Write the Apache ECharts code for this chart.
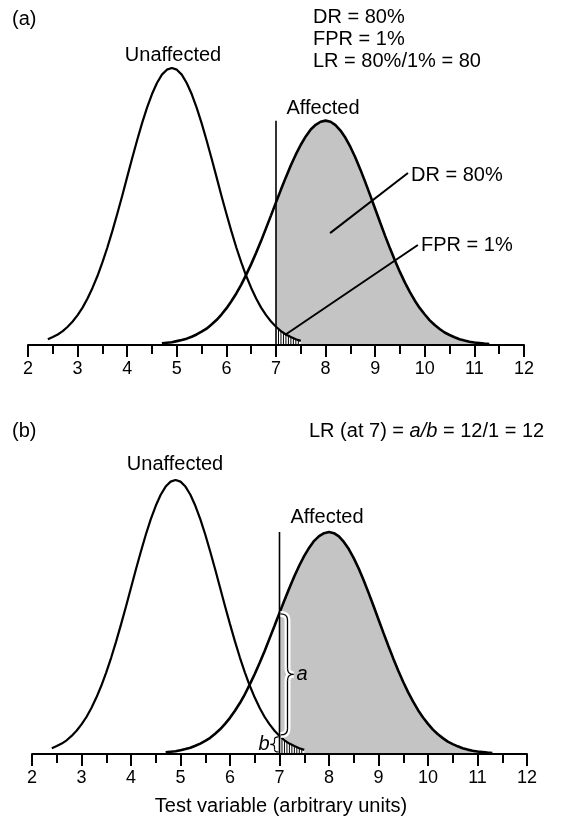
<!DOCTYPE html>
<html><head><meta charset="utf-8">
<script src="https://cdn.jsdelivr.net/npm/echarts@6/dist/echarts.min.js"></script>
<style>html,body{margin:0;padding:0;background:#fff}#c{width:573px;height:817px}</style>
</head><body><div id="c"></div>
<script>
// ---- data (test variable, relative height) ----
const tickLabels = ['2','3','4','5','6','7','8','9','10','11','12'];
const unaffected = [[2.4,2.1],[2.5,2.9],[2.6,3.8],[2.7,5.0],[2.8,6.6],[2.9,8.5],[3.0,10.8],[3.1,13.5],[3.2,16.8],[3.3,20.6],[3.4,24.9],[3.5,29.8],[3.6,35.2],[3.7,41.1],[3.8,47.4],[3.9,53.9],[4.0,60.7],[4.1,67.4],[4.2,73.9],[4.3,80.1],[4.4,85.7],[4.5,90.6],[4.6,94.6],[4.7,97.6],[4.8,99.4],[4.9,100],[5.0,99.4],[5.1,97.6],[5.2,94.6],[5.3,90.6],[5.4,85.7],[5.5,80.1],[5.6,73.9],[5.7,67.4],[5.8,60.7],[5.9,53.9],[6.0,47.4],[6.1,41.1],[6.2,35.2],[6.3,29.8],[6.4,24.9],[6.5,20.6],[6.6,16.8],[6.7,13.5],[6.8,10.8],[6.9,8.5],[7.0,6.6],[7.1,5.0],[7.2,3.8],[7.3,2.9],[7.4,2.1],[7.5,1.5]];
const affected = [[4.7,0.6],[4.8,0.8],[4.9,1.0],[5.0,1.4],[5.1,1.8],[5.2,2.3],[5.3,3.0],[5.4,3.8],[5.5,4.8],[5.6,5.9],[5.7,7.4],[5.8,9.0],[5.9,11.0],[6.0,13.2],[6.1,15.8],[6.2,18.6],[6.3,21.8],[6.4,25.4],[6.5,29.2],[6.6,33.3],[6.7,37.6],[6.8,42.2],[6.9,46.8],[7.0,51.5],[7.1,56.1],[7.2,60.6],[7.3,64.9],[7.4,68.8],[7.5,72.3],[7.6,75.3],[7.7,77.8],[7.8,79.5],[7.9,80.6],[8.0,81],[8.1,80.6],[8.2,79.4],[8.3,77.4],[8.4,74.8],[8.5,71.5],[8.6,67.7],[8.7,63.4],[8.8,58.8],[8.9,54.0],[9.0,49.1],[9.1,44.2],[9.2,39.4],[9.3,34.8],[9.4,30.4],[9.5,26.3],[9.6,22.5],[9.7,19.1],[9.8,16.0],[9.9,13.3],[10.0,11.0],[10.1,8.9],[10.2,7.2],[10.3,5.8],[10.4,4.5],[10.5,3.6],[10.6,2.8],[10.7,2.1],[10.8,1.6],[10.9,1.2],[11.0,0.9],[11.1,0.7],[11.2,0.5],[11.3,0.35]];
const hatch = [[7.05,5.8],[7.1,5.0],[7.15,4.4],[7.2,3.8],[7.25,3.3],[7.3,2.9],[7.35,2.5],[7.4,2.1],[7.45,1.8]];
const cutoff = 7;
const cutoffTop = 81;
const drPointer = [[9.66,62.1],[8.09,40.4]];
const fprPointer = [[9.86,36.1],[7.18,3.6]];

const FONT = '"Liberation Sans", Arial, Helvetica, sans-serif';
const chart = echarts.init(document.getElementById('c'), null, {renderer:'canvas'});

function panelSeries(g){
  const base = {xAxisIndex:g, yAxisIndex:g, symbol:'none', silent:true, animation:false};
  const s = [
    Object.assign({type:'line', data: affected.filter(p=>p[0]>=cutoff), lineStyle:{width:0}, areaStyle:{color:'#c4c4c4', opacity:1}, z:1}, base),
    Object.assign({type:'line', data: unaffected.filter(p=>p[0]>=cutoff), lineStyle:{width:0}, areaStyle:{color:'#ffffff', opacity:1}, z:2}, base),
    Object.assign({type:'bar', data: hatch, barWidth:1, itemStyle:{color:'#000'}, z:3}, base),
    Object.assign({type:'line', data: unaffected, lineStyle:{color:'#000', width:2.2}, z:4}, base),
    Object.assign({type:'line', data: affected, lineStyle:{color:'#000', width:2.6}, z:4}, base),
    Object.assign({type:'line', data: [[cutoff,0],[cutoff,cutoffTop]], lineStyle:{color:'#000', width:1.6}, z:5}, base)
  ];
  if (g === 0) {
    s.push(Object.assign({type:'line', data: drPointer, lineStyle:{color:'#000', width:2}, z:6}, base));
    s.push(Object.assign({type:'line', data: fprPointer, lineStyle:{color:'#000', width:2}, z:6}, base));
  }
  return s;
}

const xAxisBase = g => ({
  type:'value', gridIndex:g, min:2, max:12, interval:1, z:10,
  axisLine:{show:true, onZero:false, lineStyle:{color:'#000', width:2}},
  axisTick:{show:true, length:12, lineStyle:{color:'#000', width:2}},
  minorTick:{show:true, splitNumber:2, length:9, lineStyle:{color:'#000', width:2}},
  splitLine:{show:false}, minorSplitLine:{show:false},
  axisLabel:{color:'#000', fontSize:18, fontFamily:FONT, margin:15,
    formatter: v => tickLabels[Math.round(v) - 2]}
});

chart.setOption({
  animation:false,
  backgroundColor:'#fff',
  grid:[
    {left:28, right:49, top:68, height:277},
    {left:32, right:46, top:480, height:274}
  ],
  xAxis:[xAxisBase(0), xAxisBase(1)],
  yAxis:[
    {type:'value', gridIndex:0, min:0, max:100, show:false},
    {type:'value', gridIndex:1, min:0, max:100, show:false}
  ],
  series: panelSeries(0).concat(panelSeries(1))
});

function txt(x, y, text, extra){
  return {type:'text', x:x, y:y, z:100, silent:true,
    style:Object.assign({text:text, fill:'#000', font:'20px ' + FONT,
      textAlign:'left', textVerticalAlign:'middle', align:'left', verticalAlign:'middle'}, extra||{})};
}

const aTop = affected.find(p=>p[0]===cutoff)[1];
const uAt = unaffected.find(p=>p[0]===cutoff)[1];
const pTop = chart.convertToPixel({gridIndex:1}, [cutoff, aTop]);
const pMid = chart.convertToPixel({gridIndex:1}, [cutoff, uAt]);
const pBot = chart.convertToPixel({gridIndex:1}, [cutoff, 0]);
const x7 = pTop[0];

function q(x1,y1,cx,cy,x2,y2){ return {type:'bezierCurve', shape:{x1:x1,y1:y1,cpx1:cx,cpy1:cy,x2:x2,y2:y2}}; }
function l(x1,y1,x2,y2){ return {type:'line', shape:{x1:x1,y1:y1,x2:x2,y2:y2}}; }
// dir = +1 brace opening left with tip right "}", dir = -1 "{"
function brace(x, y1, y2, dir, off, tip, r){
  const m = (y1+y2)/2, s = x + dir*off, t = x + dir*tip;
  return [
    q(x+dir*1, y1, s, y1, s, y1+r),
    l(s, y1+r, s, m-r),
    q(s, m-r, s, m, t, m),
    q(t, m, s, m, s, m+r),
    l(s, m+r, s, y2-r),
    q(s, y2-r, s, y2, x+dir*1, y2)
  ];
}
function styled(parts, stroke, w, z){
  return parts.map(p => ({type:p.type, shape:p.shape, z:z, silent:true, style:{stroke:stroke, lineWidth:w, fill:null}}));
}
const aBrace = brace(x7, pTop[1]+1, pMid[1]-1, 1, 8, 14, 6);
const bBrace = brace(x7, pMid[1]+1, pBot[1]-2, -1, 5, 9, 2.5);

chart.setOption({
  graphic: [
    txt(12, 19, '(a)'),
    txt(313, 17, 'DR = 80%'),
    txt(313, 39, 'FPR = 1%'),
    txt(313, 61, 'LR = 80%/1% = 80'),
    txt(173, 55, 'Unaffected', {textAlign:'center', align:'center'}),
    txt(323, 108, 'Affected', {textAlign:'center', align:'center'}),
    txt(411, 175, 'DR = 80%'),
    txt(421, 245, 'FPR = 1%'),
    txt(12, 431, '(b)'),
    txt(309, 431, 'LR (at 7) = {i|a/b} = 12/1 = 12', {rich:{i:{font:'italic 20px ' + FONT}}}),
    txt(175, 464, 'Unaffected', {textAlign:'center', align:'center'}),
    txt(327, 517, 'Affected', {textAlign:'center', align:'center'}),
    txt(281, 806, 'Test variable (arbitrary units)', {textAlign:'center', align:'center'}),
    txt(x7+17, (pTop[1]+pMid[1])/2, 'a', {font:'italic 20px ' + FONT}),
    txt(x7-10, (pMid[1]+pBot[1])/2 - 1, 'b', {font:'italic 20px ' + FONT, textAlign:'right', align:'right'})
  ].concat(styled(aBrace, '#fff', 6, 90), styled(aBrace, '#000', 1.3, 91), styled(bBrace, '#000', 1.2, 91))
});
</script></body></html>
